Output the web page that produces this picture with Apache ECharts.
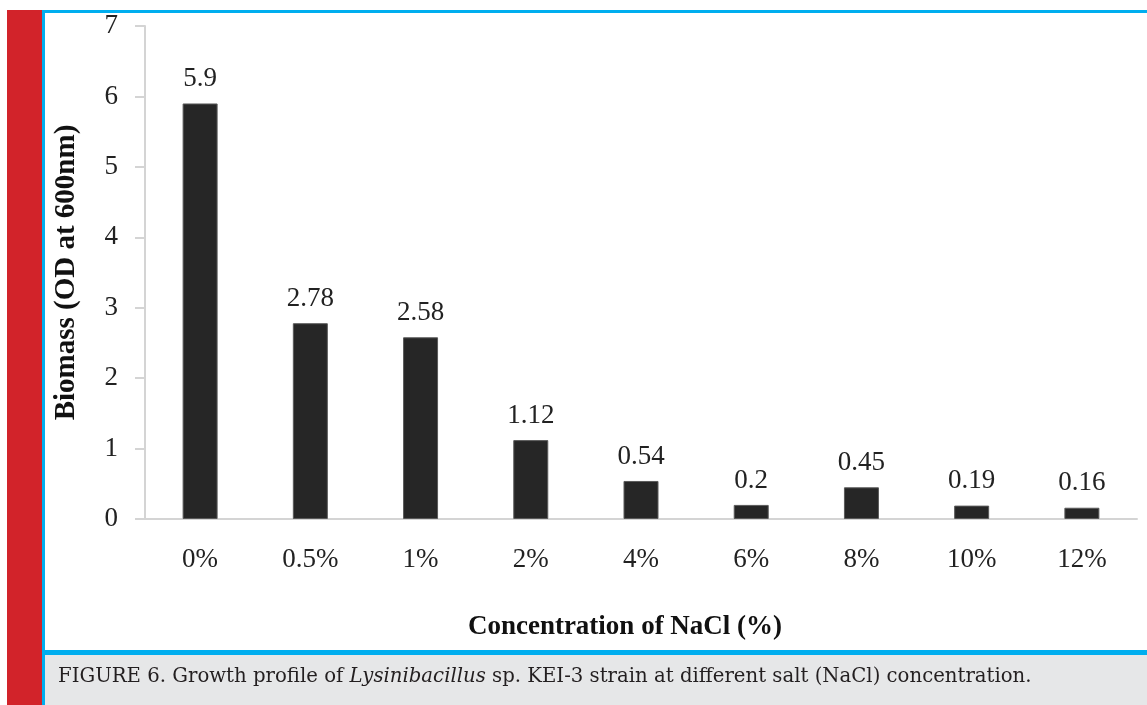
<!DOCTYPE html>
<html>
<head>
<meta charset="utf-8">
<script src="https://cdn.jsdelivr.net/npm/echarts@6/dist/echarts.min.js"></script>
<style>
html,body{margin:0;padding:0;background:#fff;}
#chart{width:1147px;height:705px;}
</style>
</head>
<body>
<div id="chart"></div>
<script>
const categories = ['0%', '0.5%', '1%', '2%', '4%', '6%', '8%', '10%', '12%'];
const biomass = [5.9, 2.78, 2.58, 1.12, 0.54, 0.2, 0.45, 0.19, 0.16];
const yTitle = 'Biomass (OD at 600nm)';
const xTitle = 'Concentration of NaCl (%)';

const chart = echarts.init(document.getElementById('chart'), null, {renderer: 'canvas'});
const serif = '"Times New Roman", "Liberation Serif", serif';
const txt = '#222';
chart.setOption({
  animation: false,
  backgroundColor: '#fff',
  grid: {left: 145, right: 10, top: 26, bottom: 186, containLabel: false},
  xAxis: {
    type: 'category',
    data: categories,
    axisLine: {show: true, lineStyle: {color: '#d4d4d4', width: 2}},
    axisTick: {show: false},
    axisLabel: {margin: 27, fontFamily: serif, fontSize: 27, color: txt},
    name: xTitle,
    nameLocation: 'middle',
    nameGap: 95,
    nameTextStyle: {fontFamily: serif, fontSize: 27, fontWeight: 'bold', color: '#111', padding: [0, 32, 0, 0]}
  },
  yAxis: {
    type: 'value',
    min: 0, max: 7, interval: 1,
    axisLine: {show: true, lineStyle: {color: '#d4d4d4', width: 2}},
    axisTick: {show: true, inside: false, length: 10, lineStyle: {color: '#d4d4d4', width: 2}},
    splitLine: {show: false},
    axisLabel: {margin: 27, fontFamily: serif, fontSize: 27, color: txt},
    name: yTitle,
    nameLocation: 'middle',
    nameGap: 64,
    nameRotate: 90,
    nameTextStyle: {fontFamily: serif, fontSize: 29, fontWeight: 'bold', color: '#111'}
  },
  series: [{
    type: 'bar',
    data: biomass,
    barWidth: 35,
    itemStyle: {color: '#262626', borderColor: '#5a5a5a', borderWidth: 1},
    label: {show: true, position: 'top', distance: 11, fontFamily: serif, fontSize: 27, color: txt}
  }],
  graphic: [
    {type: 'rect', shape: {x: 7, y: 10, width: 35, height: 695}, style: {fill: '#d2232a'}, z: 10},
    {type: 'rect', shape: {x: 42, y: 10, width: 1105, height: 3}, style: {fill: '#00aeef'}, z: 10},
    {type: 'rect', shape: {x: 42, y: 10, width: 3, height: 695}, style: {fill: '#00aeef'}, z: 10},
    {type: 'rect', shape: {x: 42, y: 650, width: 1105, height: 5}, style: {fill: '#00aeef'}, z: 10},
    {type: 'rect', shape: {x: 45, y: 655, width: 1102, height: 50}, style: {fill: '#e6e7e8'}, z: 10},
    {type: 'text', left: 58, top: 667, z: 11,
      style: {
        text: '{a|FIGURE 6. Growth profile of }{i|Lysinibacillus}{a| sp. KEI-3 strain at different salt (NaCl) concentration.}',
        rich: {
          a: {fontFamily: '"DejaVu Serif", serif', fontSize: 19.7, fill: '#231f20', color: '#231f20'},
          i: {fontFamily: '"DejaVu Serif", serif', fontSize: 19.7, fontStyle: 'italic', fill: '#231f20', color: '#231f20'}
        }
      }
    }
  ]
});
</script>
</body>
</html>
